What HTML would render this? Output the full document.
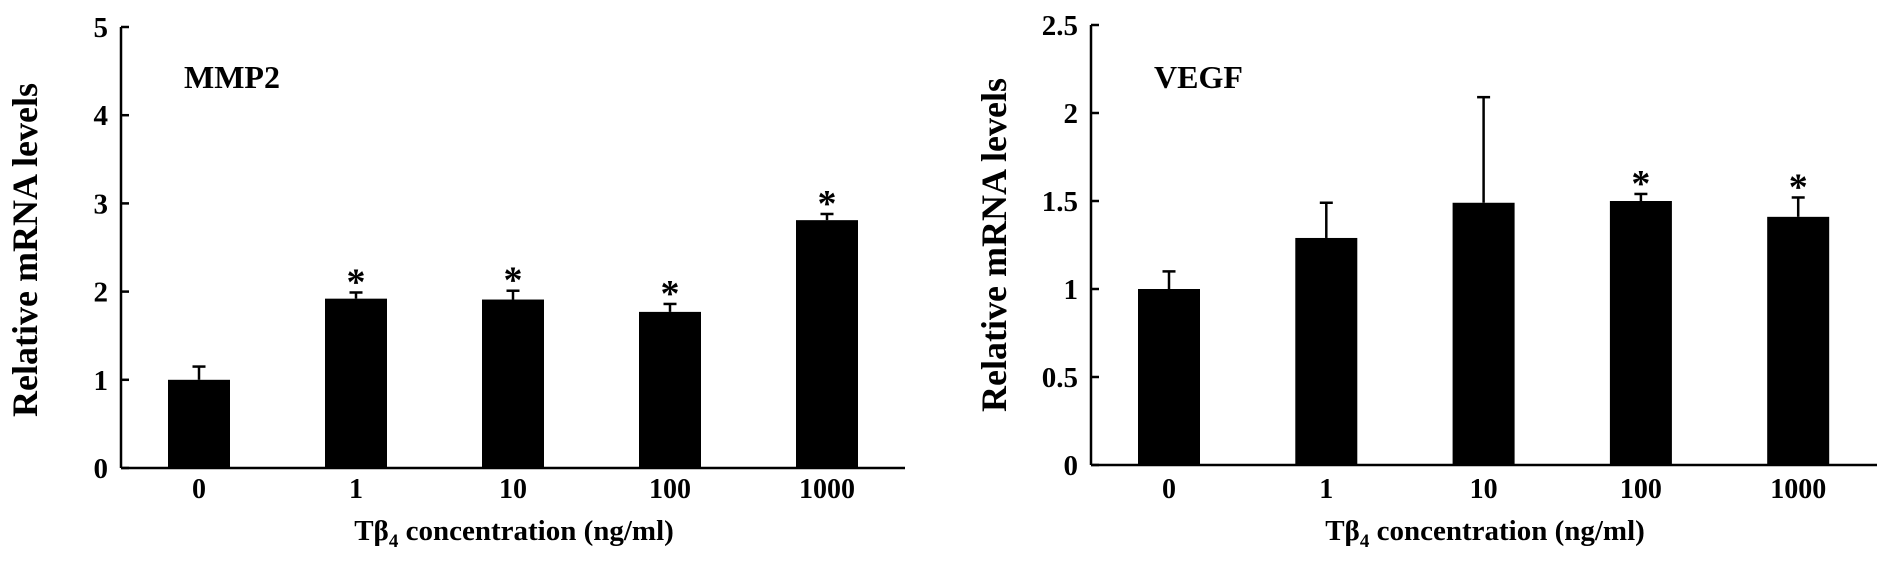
<!DOCTYPE html>
<html><head><meta charset="utf-8"><style>
html,body{margin:0;padding:0;background:#fff;}
svg{display:block;font-family:"Liberation Serif",serif;font-weight:bold;}
</style></head><body>
<svg id="c" width="1890" height="567" viewBox="0 0 1890 567"></svg>
<script>
const categories = ["0","1","10","100","1000"];
const mmp2Values = [1.0, 1.92, 1.91, 1.77, 2.81];
const mmp2ErrTop = [1.15, 1.99, 2.01, 1.86, 2.88];
const mmp2Sig = [false, true, true, true, true];
const mmp2Ticks = ["0","1","2","3","4","5"];
const mmp2TickVals = [0,1,2,3,4,5];
const vegfValues = [1.0, 1.29, 1.49, 1.50, 1.41];
const vegfErrTop = [1.10, 1.49, 2.09, 1.54, 1.52];
const vegfSig = [false, false, false, true, true];
const vegfTicks = ["0","0.5","1","1.5","2","2.5"];
const vegfTickVals = [0,0.5,1,1.5,2,2.5];

const NS = "http://www.w3.org/2000/svg";
const svg = document.getElementById('c');
function mk(tag, attrs, parent, text){
  const e = document.createElementNS(NS, tag);
  for (const k in attrs) e.setAttribute(k, attrs[k]);
  if (text !== undefined) e.textContent = text;
  (parent||svg).appendChild(e);
  return e;
}
function drawPanel(cfg){
  const g = mk('g', {});
  
  
  const yScale = v => cfg.y0 - v / cfg.max * (cfg.y0 - cfg.yTop);
  const xScale = i => cfg.firstCenter + i * cfg.step;
  const ya = mk('line', {x1:cfg.ax, y1:cfg.yTop, x2:cfg.ax, y2:cfg.y0, stroke:'#000','stroke-width':2.5}, g);
  
  
  const xa = mk('line', {x1:cfg.ax, y1:cfg.y0, x2:cfg.axEnd, y2:cfg.y0, stroke:'#000','stroke-width':2.5}, g);
  
  
  cfg.tickVals.forEach((v,i)=>{
    const y = yScale(v);
    mk('line', {x1:cfg.ax, y1:y, x2:cfg.ax+8, y2:y, stroke:'#000','stroke-width':2.5}, g);
    const t = mk('text', {x:cfg.ax-13, y:y+10, 'font-size':29, 'text-anchor':'end'}, g, cfg.ticks[i]);
    
    
  });
  cfg.values.forEach((v,i)=>{
    const cx = xScale(i), w = 62;
    const top = yScale(v), et = yScale(cfg.err[i]);
    const eb = mk('line', {x1:cx, y1:top, x2:cx, y2:et, stroke:'#000','stroke-width':2.5}, g);
    
    
    mk('line', {x1:cx-6.5, y1:et, x2:cx+6.5, y2:et, stroke:'#000','stroke-width':2.5}, g);
    const r = mk('rect', {x:cx-w/2, y:top, width:w, height:cfg.y0-top, fill:'#000'}, g);
    
    
    if (cfg.sig[i]) {
      const s = mk('text', {x:cx, y:et+2, 'font-size':38, 'text-anchor':'middle'}, g, '*');
      
      
    }
    const l = mk('text', {x:cx, y:498, 'font-size':28, 'text-anchor':'middle'}, g, categories[i]);
    
    
  });
  const yt = mk('text', {x:0, y:0, 'font-size':36, 'text-anchor':'middle', transform:`translate(${cfg.ytX},${cfg.ytY}) rotate(-90)`}, g, 'Relative mRNA levels');
  
  
  const xt = mk('text', {x:cfg.xtX, y:540, 'font-size':29, 'text-anchor':'middle'}, g);
  
  
  mk('tspan', {}, xt, 'Tβ');
  mk('tspan', {'font-size':19, dy:7}, xt, '4');
  mk('tspan', {dy:-7}, xt, ' concentration (ng/ml)');
  const pt = mk('text', {x:cfg.titleX, y:88, 'font-size':32}, g, cfg.title);
  
  
}
drawPanel({name:'mmp2', title:'MMP2', values:mmp2Values, err:mmp2ErrTop, sig:mmp2Sig, ticks:mmp2Ticks, tickVals:mmp2TickVals,
  max:5, y0:468, yTop:27, ax:121, axEnd:905, firstCenter:199, step:157, ytX:37, ytY:250, xtX:514, titleX:184});
drawPanel({name:'vegf', title:'VEGF', values:vegfValues, err:vegfErrTop, sig:vegfSig, ticks:vegfTicks, tickVals:vegfTickVals,
  max:2.5, y0:465, yTop:25, ax:1091, axEnd:1877, firstCenter:1169, step:157.3, ytX:1006, ytY:245, xtX:1485, titleX:1154});
</script>
</body></html>
